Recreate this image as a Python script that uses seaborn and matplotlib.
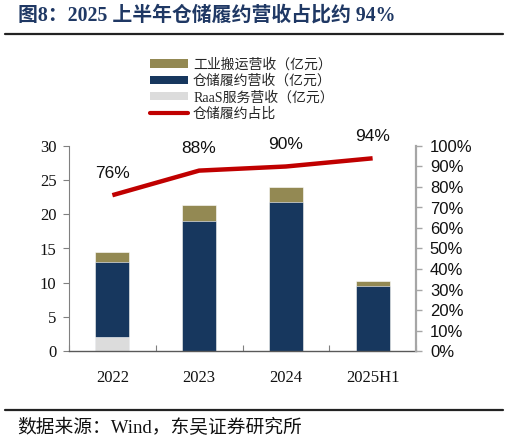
import numpy as np
import pandas as pd
import matplotlib
matplotlib.use("Agg")
import matplotlib.pyplot as plt
import seaborn as sns
from matplotlib.patches import Patch
from matplotlib.lines import Line2D
from matplotlib.ticker import FuncFormatter, MultipleLocator

categories = ["2022", "2023", "2024", "2025H1"]
handling_rev = [1.5, 2.4, 2.2, 0.7]      # 工业搬运营收（亿元）
warehouse_rev = [11.0, 19.0, 21.8, 9.5]  # 仓储履约营收（亿元）
raas_rev = [2.0, 0.0, 0.0, 0.0]          # RaaS服务营收（亿元）
warehouse_share = [0.76, 0.88, 0.90, 0.94]  # 仓储履约占比
share_labels = ["76%", "88%", "90%", "94%"]

sns.set_theme(style="white")
plt.rcParams["font.family"] = ["Liberation Serif", "Noto Sans CJK SC", "DejaVu Sans"]

c_handling = "#938953"
c_warehouse = "#17375e"
c_raas = "#dcdcdc"
c_line = "#c00000"

df = pd.DataFrame({
    "cat": categories,
    "raas": raas_rev,
    "wh": warehouse_rev,
    "hd": handling_rev,
})
df["lvl_raas"] = df["raas"]
df["lvl_wh"] = df["raas"] + df["wh"]
df["lvl_total"] = df["lvl_wh"] + df["hd"]

W, H = 509, 444
fig = plt.figure(figsize=(W / 100, H / 100), dpi=100)
ax = fig.add_axes([69 / W, 1 - 351 / H, (416 - 69) / W, (351 - 146) / H])

bw = 0.39
sns.barplot(data=df, x="cat", y="lvl_total", color=c_handling, width=bw, ax=ax,
            saturation=1, edgecolor="white", linewidth=0.4)
sns.barplot(data=df, x="cat", y="lvl_wh", color=c_warehouse, width=bw, ax=ax,
            saturation=1, edgecolor="white", linewidth=0.4)
sns.barplot(data=df, x="cat", y="lvl_raas", color=c_raas, width=bw, ax=ax,
            saturation=1, edgecolor="white", linewidth=0.4)

ax.set_xlim(-0.5, len(categories) - 0.5)
ax.set_ylim(0, 30)
ax.yaxis.set_major_locator(MultipleLocator(5))
ax.set_xlabel("")
ax.set_ylabel("")

for s in ["top", "right"]:
    ax.spines[s].set_visible(False)
ax.spines["left"].set_color("#808080")
ax.spines["left"].set_linewidth(0.8)
ax.spines["bottom"].set_color("#595959")
ax.spines["bottom"].set_linewidth(1.0)

ax.tick_params(axis="y", which="major", left=True, direction="out", length=4,
               width=0.8, color="#808080", labelsize=12, labelcolor="#111111", pad=5)
ax.tick_params(axis="x", which="major", bottom=False, labelsize=12,
               labelcolor="#111111", pad=8)
ax.set_xticks(np.arange(-0.5, len(categories), 1.0), minor=True)
ax.tick_params(axis="x", which="minor", bottom=True, direction="in", length=4,
               width=0.8, color="#808080")
for t in ax.get_xticklabels() + ax.get_yticklabels():
    t.set_family(["Liberation Serif"])

ax2 = ax.twinx()
xpos = np.arange(len(categories))
sns.lineplot(x=xpos, y=warehouse_share, ax=ax2, color=c_line, linewidth=3.2,
             solid_capstyle="butt")
ax2.set_ylim(0, 1.0)
ax2.yaxis.set_major_locator(MultipleLocator(0.1))
ax2.yaxis.set_major_formatter(FuncFormatter(lambda v, p: f"{v * 100:.0f}%"))
for s in ["top", "left", "bottom"]:
    ax2.spines[s].set_visible(False)
ax2.spines["right"].set_color("#a6a6a6")
ax2.spines["right"].set_linewidth(1.6)
ax2.tick_params(axis="y", right=True, direction="out", length=4, width=1.0,
                color="#a6a6a6", labelsize=12, labelcolor="#111111", pad=6)
for t in ax2.get_yticklabels():
    t.set_family(["Liberation Sans"])
ax2.set_ylabel("")
ax2.set_xlim(-0.5, len(categories) - 0.5)

for xi, yi, lab in zip(xpos, warehouse_share, share_labels):
    ax2.annotate(lab, (xi, yi), xytext=(0, 15.6), textcoords="offset points",
                 ha="center", va="center", fontsize=12.5, family=["Liberation Sans"],
                 color="#111111")

handles = [
    Patch(facecolor=c_handling, edgecolor="none"),
    Patch(facecolor=c_warehouse, edgecolor="none"),
    Patch(facecolor=c_raas, edgecolor="none"),
    Line2D([0], [0], color=c_line, linewidth=3),
]
labels = ["工业搬运营收（亿元）", "仓储履约营收（亿元）", "RaaS服务营收（亿元）", "仓储履约占比"]
fig.legend(handles, labels, loc="upper left", bbox_to_anchor=(150 / W, 1 - 58 / H),
           frameon=False, handlelength=2.75, handletextpad=0.35,
           labelspacing=0.2, borderaxespad=0, borderpad=0, handleheight=0.55,
           prop={"family": ["Liberation Serif", "Noto Sans CJK SC"], "size": 10})

fig.text(18 / W, 1 - 16 / H, "图8：2025 上半年仓储履约营收占比约 94%", ha="left", va="center",
         fontsize=14.3, fontweight="bold", color="#1f3864",
         family=["Liberation Serif", "Noto Sans CJK SC"])
fig.add_artist(Line2D([5 / W, 503 / W], [1 - 33.5 / H, 1 - 33.5 / H], color="#222222",
                      linewidth=1.6, transform=fig.transFigure))
fig.add_artist(Line2D([5 / W, 503 / W], [1 - 410 / H, 1 - 410 / H], color="#222222",
                      linewidth=1.6, transform=fig.transFigure))
fig.text(17 / W, 1 - 428 / H, "数据来源：Wind，东吴证券研究所", ha="left", va="center",
         fontsize=13.5, color="#111111", family=["Liberation Serif", "Noto Sans CJK SC"])

fig.savefig("out.png", dpi=100)
